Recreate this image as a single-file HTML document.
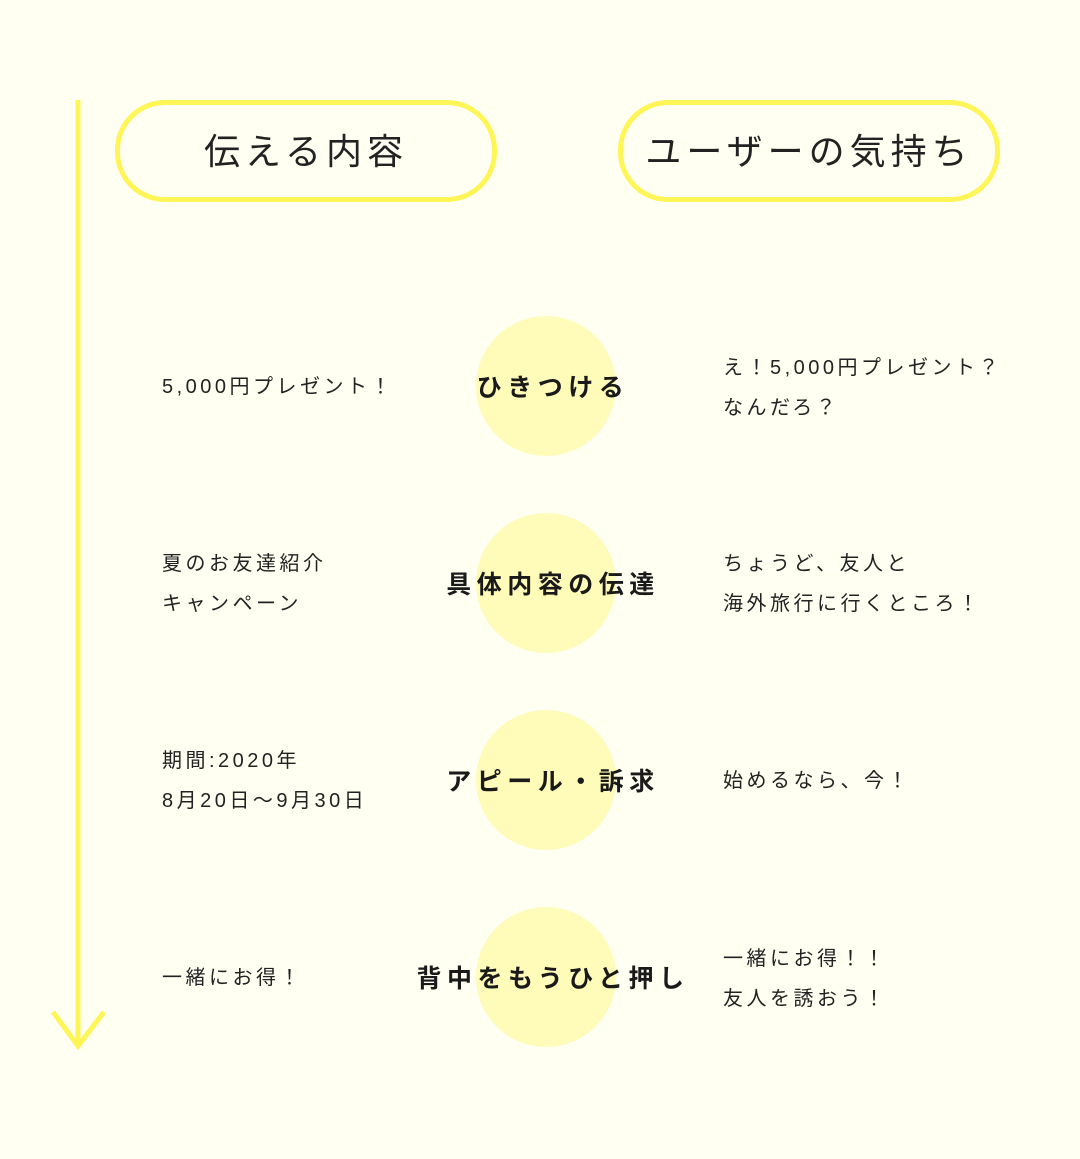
<!DOCTYPE html>
<html><head><meta charset="utf-8"><style>
body{margin:0;width:1080px;height:1159px;background:#fffff2;position:relative;overflow:hidden;font-family:"Liberation Sans","Noto Sans CJK JP",sans-serif;color:#222}
.pill{position:absolute;top:100px;width:372px;height:92px;border:5px solid #fff557;border-radius:50px;text-align:center;line-height:94px;font-size:36px;letter-spacing:5px;color:#222}
.c{position:absolute;left:476px;width:140px;height:140px;border-radius:50%;background:#fffbb8}
.lab{position:absolute;left:350px;width:400px;text-align:center;font-weight:bold;font-size:25px;letter-spacing:5.5px;text-indent:6px;line-height:30px;color:#1a1a1a}
.t{position:absolute;font-size:20px;letter-spacing:3.5px;line-height:40px;color:#222}
</style></head><body>
<svg width="1080" height="1159" style="position:absolute;left:0;top:0">
<line x1="78" y1="100" x2="78" y2="1046" stroke="#fff557" stroke-width="5"/>
<polyline points="53,1012 78,1046 104,1012" fill="none" stroke="#fff557" stroke-width="5"/>
</svg>
<div class="pill" style="left:115px">伝える内容</div>
<div class="pill" style="left:618px">ユーザーの気持ち</div>

<div class="c" style="top:316px"></div>
<div class="c" style="top:513px"></div>
<div class="c" style="top:710px"></div>
<div class="c" style="top:907px"></div>
<div class="lab" style="top:373px">ひきつける</div>
<div class="lab" style="top:570px">具体内容の伝達</div>
<div class="lab" style="top:767px">アピール・訴求</div>
<div class="lab" style="top:964px">背中をもうひと押し</div>

<div class="t" style="left:162px;top:367px">5,000円プレゼント！</div>
<div class="t" style="left:162px;top:544px">夏のお友達紹介<br>キャンペーン</div>
<div class="t" style="left:162px;top:741px">期間:2020年<br>8月20日〜9月30日</div>
<div class="t" style="left:162px;top:958px">一緒にお得！</div>

<div class="t" style="left:723px;top:348px">え！5,000円プレゼント？<br>なんだろ？</div>
<div class="t" style="left:723px;top:544px">ちょうど、友人と<br>海外旅行に行くところ！</div>
<div class="t" style="left:723px;top:761px">始めるなら、今！</div>
<div class="t" style="left:723px;top:939px">一緒にお得！！<br>友人を誘おう！</div>
</body></html>
